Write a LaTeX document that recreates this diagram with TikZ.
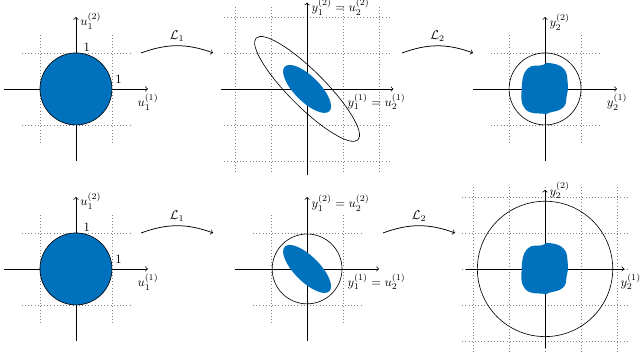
\documentclass[tikz,border=0pt]{standalone}
\usepackage{amsmath}
\definecolor{blobblue}{RGB}{0,114,189}
\tikzset{
	axisline/.style={line width=0.6pt,->},
	gridline/.style={dotted,gray,line width=0.5pt},
	outline/.style={line width=0.5pt},
	mapping/.style={line width=0.6pt,->,bend left=20},
}
\begin{document}
\begin{tikzpicture}
	\useasboundingbox (0,0) rectangle (17.833,-9.889);

	%input disk, top
	\begin{scope}[shift={(2.11,-2.47)}]
	\draw[gridline] (-1.5,-1.5) grid (1.5,1.5);
	\draw[axisline] (-2,0)--(2,0) node[below] (u1a) {$u_1^{(1)}$};
	\draw[axisline] (0,-2)--(0,2);
	\node[right] at (0,1.89) (u2a) {$u_1^{(2)}$};
	\draw[outline,fill=blobblue] (0,0) circle (1);
	\node[above right,inner sep=1pt] at (0.17,1) (onea) {1};
	\node[above right,inner sep=1pt] at (1.05,0.12) (oneb) {1};
	\end{scope}

	%after L1, top
	\begin{scope}[shift={(8.53,-2.47)}]
	\draw[gridline] (-2.3,-2.3) grid (2.3,2.3);
	\draw[axisline] (-2.4,0)--(2.4,0);
	\draw[axisline] (0,-2.4)--(0,2.4);
	\node[right] at (0,2.28) (y2a) {$y_1^{(2)} = u_2^{(2)}$};
	\node[below right] at (1,0) (y1a) {$y_1^{(1)} = u_2^{(1)}$};
	\draw[outline,rotate=-45] (0,0) ellipse (2 and 0.5);
	\fill[blobblue,rotate=-45] (0,0) ellipse (0.875 and 0.35);
	\end{scope}

	%after L2, top
	\begin{scope}[shift={(15.14,-2.47)}]
	\draw[gridline] (-1.5,-1.5) grid (1.5,1.5);
	\draw[axisline] (-2,0)--(2,0) node[below] (z1a) {$y_2^{(1)}$};
	\draw[axisline] (0,-2)--(0,2);
	\node[right] at (0,1.86) (z2a) {$y_2^{(2)}$};
	\draw[outline] (0,0) circle (1);
	\fill[blobblue] plot[smooth cycle,tension=0.8] coordinates {(0.63,0.15) (0.52,0.56) (0.12,0.72) (-0.08,0.66) (-0.5,0.55) (-0.65,0) (-0.55,-0.56) (-0.05,-0.69) (0.12,-0.66) (0.5,-0.52) (0.6,-0.2)};
	\end{scope}

	%input disk, bottom
	\begin{scope}[shift={(2.11,-7.47)}]
	\draw[gridline] (-1.5,-1.5) grid (1.5,1.5);
	\draw[axisline] (-2,0)--(2,0) node[below] (u1b) {$u_1^{(1)}$};
	\draw[axisline] (0,-2)--(0,2);
	\node[right] at (0,1.89) (u2b) {$u_1^{(2)}$};
	\draw[outline,fill=blobblue] (0,0) circle (1);
	\node[above right,inner sep=1pt] at (0.17,1) (onec) {1};
	\node[above right,inner sep=1pt] at (1.05,0.12) (oned) {1};
	\end{scope}

	%after L1, bottom
	\begin{scope}[shift={(8.53,-7.47)}]
	\draw[gridline] (-1.5,-1.5) grid (1.5,1.5);
	\draw[axisline] (-2,0)--(2,0);
	\draw[axisline] (0,-2)--(0,2);
	\node[right] at (0,1.83) (y2b) {$y_1^{(2)} = u_2^{(2)}$};
	\node[below right] at (1,0) (y1b) {$y_1^{(1)} = u_2^{(1)}$};
	\draw[outline] (0,0) circle (0.97);
	\fill[blobblue,rotate=-45] (0,0) ellipse (0.875 and 0.35);
	\end{scope}

	%after L2, bottom
	\begin{scope}[shift={(15.14,-7.47)}]
	\draw[gridline] (-2.3,-2.3) grid (2.3,2.3);
	\draw[axisline] (-2.2,0)--(2.2,0);
	\draw[axisline] (0,-2.2)--(0,2.2);
	\node[right] at (0,2.19) (z2b) {$y_2^{(2)}$};
	\node[below] at (2.38,0) (z1b) {$y_2^{(1)}$};
	\draw[outline] (0,0) circle (1.88);
	\fill[blobblue] plot[smooth cycle,tension=0.8] coordinates {(0.63,0.15) (0.52,0.56) (0.12,0.72) (-0.08,0.66) (-0.5,0.55) (-0.65,0) (-0.55,-0.56) (-0.05,-0.69) (0.12,-0.66) (0.5,-0.52) (0.6,-0.2)};
	\end{scope}

	%maps
	\coordinate (L1s) at (3.92,-1.47);
	\coordinate (L1e) at (5.92,-1.47);
	\coordinate (L2s) at (11.17,-1.47);
	\coordinate (L2e) at (13.14,-1.47);
	\coordinate (L3s) at (3.92,-6.47);
	\coordinate (L3e) at (5.92,-6.47);
	\coordinate (L4s) at (10.64,-6.47);
	\coordinate (L4e) at (12.64,-6.47);
	\draw[mapping] (L1s) to node[above] (ma) {$\mathcal{L}_1$} (L1e);
	\draw[mapping] (L2s) to node[above] (mb) {$\mathcal{L}_2$} (L2e);
	\draw[mapping] (L3s) to node[above] (mc) {$\mathcal{L}_1$} (L3e);
	\draw[mapping] (L4s) to node[above] (md) {$\mathcal{L}_2$} (L4e);

\end{tikzpicture}
\end{document}
